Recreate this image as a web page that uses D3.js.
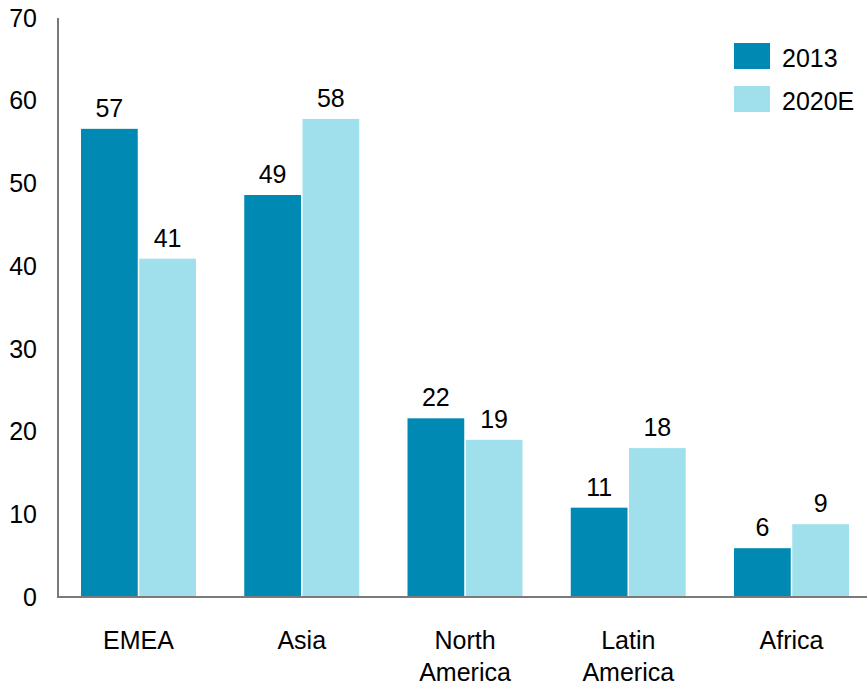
<!DOCTYPE html>
<html>
<head>
<meta charset="utf-8">
<script src="https://cdn.jsdelivr.net/npm/d3@7"></script>
<style>
  body { margin: 0; background: #ffffff; }
  text { font-family: "Liberation Sans", Arial, sans-serif; fill: #000; }
</style>
</head>
<body>
<div id="chart"></div>
<script>
const svgWidth = 867;
const svgHeight = 685;

// data
const regions = ["EMEA", "Asia", "North America", "Latin America", "Africa"];
const series = ["2013", "2020E"];
const values2013 = [56.6, 48.6, 21.6, 10.8, 5.9];
const values2020 = [40.9, 57.8, 19.0, 18.0, 8.8];
const yTicks = [0, 10, 20, 30, 40, 50, 60, 70];

const colors = { "2013": "#0089b3", "2020E": "#9fe0ec" };

const margin = { top: 18, right: 0, bottom: 88, left: 58 };
const chartHeight = svgHeight - margin.top - margin.bottom; // 579

const svg = d3.select("#chart").append("svg")
    .attr("width", svgWidth)
    .attr("height", svgHeight);

const rows = regions.map((r, i) => ({ region: r, "2013": values2013[i], "2020E": values2020[i] }));

const x0 = d3.scaleBand()
    .domain(regions)
    .range([margin.left, 872])
    .paddingInner(0.2956)
    .paddingOuter(0.1409);

const x1 = d3.scaleBand()
    .domain(series)
    .range([0, x0.bandwidth()])
    .paddingInner(0.026);

const yScale = d3.scaleLinear()
    .domain([0, 70])
    .range([margin.top + chartHeight, margin.top]);

// y tick labels (no tick marks)
svg.append("g").selectAll("text").data(yTicks)
    .enter().append("text")
    .attr("x", 37)
    .attr("y", d => yScale(d))
    .attr("dy", "0.35em")
    .attr("text-anchor", "end")
    .attr("font-size", "25px")
    .text(d => d);

// bars
const groups = svg.append("g").selectAll("g").data(rows)
    .enter().append("g")
    .attr("transform", d => `translate(${x0(d.region)},0)`);

groups.selectAll("rect")
    .data(d => series.map(s => ({ key: s, value: d[s] })))
    .enter().append("rect")
    .attr("x", d => x1(d.key))
    .attr("y", d => yScale(d.value))
    .attr("width", x1.bandwidth())
    .attr("height", d => yScale(0) - yScale(d.value))
    .attr("fill", d => colors[d.key]);

groups.selectAll("text.val")
    .data(d => series.map(s => ({ key: s, value: d[s] })))
    .enter().append("text")
    .attr("class", "val")
    .attr("x", d => x1(d.key) + x1.bandwidth() / 2)
    .attr("y", d => yScale(d.value) - 12)
    .attr("text-anchor", "middle")
    .attr("font-size", "25px")
    .text(d => d3.format(".0f")(d.value));

// axis lines
svg.append("line")
    .attr("x1", margin.left).attr("x2", margin.left)
    .attr("y1", yScale(70)).attr("y2", yScale(0))
    .attr("stroke", "#7a7a7a").attr("stroke-width", 2);
svg.append("line")
    .attr("x1", margin.left - 1).attr("x2", svgWidth)
    .attr("y1", yScale(0)).attr("y2", yScale(0))
    .attr("stroke", "#7a7a7a").attr("stroke-width", 2);

// category labels, split into two lines
svg.append("g").selectAll("text").data(regions)
    .enter().append("text")
    .attr("text-anchor", "middle")
    .attr("font-size", "25px")
    .attr("x", d => x0(d) + x0.bandwidth() / 2)
    .attr("y", 649)
    .each(function (d) {
        const words = d.split(" ");
        d3.select(this).selectAll("tspan").data(words)
            .enter().append("tspan")
            .attr("x", x0(d) + x0.bandwidth() / 2)
            .attr("dy", (w, i) => i === 0 ? 0 : 32)
            .text(w => w);
    });

// legend
const legend = svg.append("g").selectAll("g").data(series)
    .enter().append("g")
    .attr("transform", (d, i) => `translate(734, ${43 + i * 43})`);

legend.append("rect")
    .attr("width", 36)
    .attr("height", 26)
    .attr("fill", d => colors[d]);

legend.append("text")
    .attr("x", 48)
    .attr("y", 24)
    .attr("font-size", "25px")
    .text(d => d);
</script>
</body>
</html>
